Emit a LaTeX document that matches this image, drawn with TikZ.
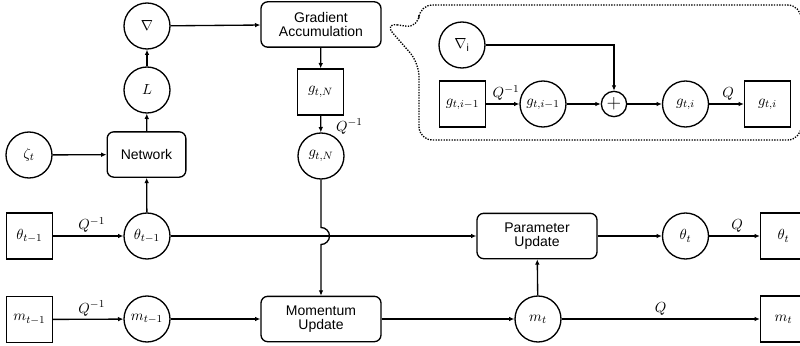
\documentclass[tikz,border=0pt]{standalone}
\usepackage{fontspec}
\setmainfont{Liberation Sans}
\usetikzlibrary{arrows.meta}

\tikzset{
    circ/.style={circle, draw, line width=1pt, minimum size=34.5pt, inner sep=0pt},
    sq/.style={rectangle, draw, line width=1pt, minimum size=34.5pt, inner sep=0pt},
    blk/.style={rectangle, draw, line width=1pt, rounded corners=5pt, minimum width=90pt,
        minimum height=34pt, align=center, font=\fontsize{10.5}{12}\selectfont},
    flow/.style={line width=1pt, -{Latex[length=4pt,width=3.5pt]}},
    qlab/.style={font=\fontsize{11}{12}\selectfont, inner sep=2pt}
}

\begin{document}
\begin{tikzpicture}[x=0.75pt, y=-0.75pt, font=\fontsize{11}{12}\selectfont]
    \useasboundingbox (0,0) rectangle (800,346);

    % Upper part: network and gradient
    \node[circ] (nabla) at (147,26) {$\nabla$};
    \node[circ] (loss) at (147,90) {$L$};
    \node[circ] (zeta) at (29,155) {$\zeta_t$};
    \node[blk, minimum width=59pt] (net) at (146.5,154.5) {Network};
    \node[blk] (gacc) at (321,24.5) {Gradient\\[-2pt]Accumulation};
    \node[sq] (gNsq) at (320.5,92) {$g_{t,N}$};
    \node[circ] (gNc) at (321,156) {$g_{t,N}$};

    % Parameter row
    \node[sq] (thold) at (29.5,236) {$\theta_{t-1}$};
    \node[circ] (thprev) at (147,236) {$\theta_{t-1}$};
    \node[blk] (pupd) at (537,236) {Parameter\\[-2pt]Update};
    \node[circ] (thcur) at (685.5,236) {$\theta_t$};
    \node[sq] (thnew) at (783.5,236) {$\theta_t$};

    % Momentum row
    \node[sq] (mold) at (29.5,319.5) {$m_{t-1}$};
    \node[circ] (mprev) at (147,319) {$m_{t-1}$};
    \node[blk] (mupd) at (321,319) {Momentum\\[-2pt]Update};
    \node[circ] (mcur) at (538,319) {$m_t$};
    \node[sq] (mnew) at (783.5,319) {$m_t$};

    % Connectors
    \draw[flow] (zeta) -- (net);
    \draw[flow] (net) -- (loss);
    \draw[flow] (loss) -- (nabla);
    \draw[flow] (nabla) -- (gacc);
    \draw[flow] (gacc) -- (gNsq);
    \draw[flow] (gNsq) -- node[qlab, right, pos=0.65, xshift=9pt] {$Q^{-1}$} (gNc);
    \coordinate (jump) at (321,227.5);
    \draw[flow] (gNc) -- (jump) arc[start angle=-90, end angle=90, radius=8.5] -- (mupd);

    \draw[flow] (thold) -- node[qlab, above, pos=0.55] {$Q^{-1}$} (thprev);
    \draw[flow] (thprev) -- (net);
    \draw[flow] (thprev) -- (pupd);
    \draw[flow] (pupd) -- (thcur);
    \draw[flow] (thcur) -- node[qlab, above, pos=0.55] {$Q$} (thnew);

    \draw[flow] (mold) -- node[qlab, above, pos=0.55] {$Q^{-1}$} (mprev);
    \draw[flow] (mprev) -- (mupd);
    \draw[flow] (mupd) -- (mcur);
    \draw[flow] (mcur) -- (pupd);
    \draw[flow] (mcur) -- node[qlab, above] {$Q$} (mnew);

    % Callout with the accumulation step
    \draw[line width=1pt, dash pattern=on 1pt off 1pt, rounded corners=10pt]
        (384,23) -- (419,28) -- (419,5) -- (801,5) -- (801,140) -- (419,140) -- (419,63) -- cycle;

    \node[circ] (nabi) at (462,45) {$\nabla_{\mathrm{i}}$};
    \node[sq] (gisq) at (462.5,104) {$g_{t,i-1}$};
    \node[circ] (gic) at (543,104) {$g_{t,i-1}$};
    \node[circle, draw, line width=1pt, minimum size=19pt, inner sep=0pt,
        font=\fontsize{14}{14}\selectfont] (plus) at (614,104) {$+$};
    \node[circ] (gti) at (685.5,104) {$g_{t,i}$};
    \node[sq] (gtisq) at (767.5,104) {$g_{t,i}$};

    \draw[flow] (nabi) -| (plus);
    \draw[flow] (gisq) -- node[qlab, above, pos=0.6] {$Q^{-1}$} (gic);
    \draw[flow] (gic) -- (plus);
    \draw[flow] (plus) -- (gti);
    \draw[flow] (gti) -- node[qlab, above, pos=0.55] {$Q$} (gtisq);
\end{tikzpicture}
\end{document}
